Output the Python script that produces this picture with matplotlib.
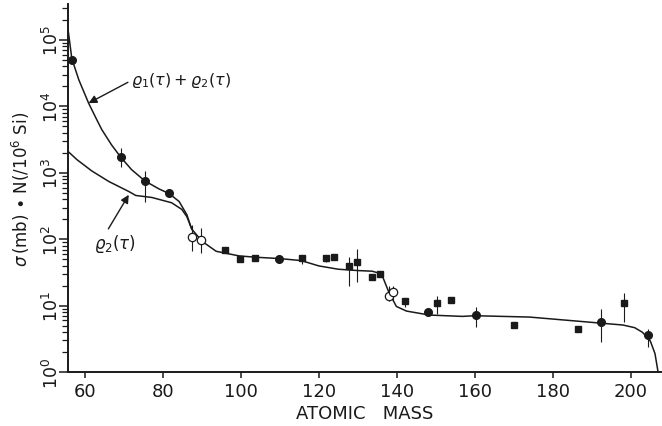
import numpy as np
import matplotlib
matplotlib.use("Agg")
import matplotlib.pyplot as plt
from matplotlib.ticker import LogLocator, NullFormatter, FixedLocator

# Curve: rho_1(tau) + rho_2(tau) (upper branch, merges with rho_2 near A ~ 87)
upper_mass = [55.6, 56.7, 58.5, 61.0, 63.1, 64.4, 66.9, 69.2, 72.0, 75.4, 79.0, 81.6,
              84.2, 86.2, 87.2, 87.5]
upper_val = [10**5.22, 10**4.72, 10**4.40, 10**4.05, 10**3.80, 10**3.65, 10**3.42,
             10**3.24, 10**3.05, 10**2.88, 10**2.76, 10**2.69, 10**2.57, 10**2.37,
             10**2.19, 10**2.15]

# Curve: rho_2(tau)
rho2_mass = [55.6, 58.0, 61.8, 66.2, 71.3, 73.1, 77.2, 82.3, 84.9, 86.2, 87.5, 90.1,
             93.7, 99.6, 104.0, 110.0, 115.5, 120.0, 125.0, 130.0, 133.7, 135.5, 136.5,
             138.0, 139.9, 142.5, 148.4, 156.8, 160.0, 174.0, 186.0, 198.0, 201.0,
             203.0, 205.0, 206.2, 207.0]
rho2_val = [10**3.33, 10**3.20, 10**3.03, 10**2.87, 10**2.72, 10**2.66, 10**2.63,
            10**2.55, 10**2.45, 10**2.34, 10**2.15, 10**1.97, 10**1.82, 10**1.75,
            10**1.73, 10**1.71, 10**1.68, 10**1.6, 10**1.55, 10**1.53, 10**1.52,
            10**1.49, 10**1.42, 10**1.2, 10**0.99, 10**0.92, 10**0.86, 10**0.84,
            10**0.85, 10**0.83, 10**0.77, 10**0.71, 10**0.67, 10**0.6, 10**0.47,
            10**0.28, 10**0.0]

# Measured abundances, filled circles
circ_mass = [56.7, 69.2, 75.4, 81.6, 109.8, 148.1, 160.2, 192.3, 204.4]
circ_val = [50000, 1740, 760, 490, 50, 8.0, 7.2, 5.6, 3.6]
circ_lo = [50000, 1230, 370, 490, 50, 8.0, 4.8, 2.8, 2.4]
circ_hi = [50000, 2400, 1050, 490, 50, 8.0, 9.5, 8.9, 4.5]

# Measured abundances, filled squares
sq_mass = [96.0, 99.8, 103.7, 115.7, 121.8, 123.8, 127.8, 129.9, 133.7, 135.8, 142.0,
           150.2, 154.0, 170.0, 186.4, 198.2]
sq_val = [70, 50, 52, 52, 53, 55, 40, 46, 27, 30, 11.7, 10.9, 12, 5.1, 4.4, 11]
sq_lo = [70, 50, 52, 42, 45, 55, 20, 23, 27, 30, 9.5, 7.4, 12, 5.1, 4.4, 5.6]
sq_hi = [70, 50, 52, 59, 53, 55, 55, 71, 27, 30, 11.7, 13.8, 12, 5.1, 4.4, 15.8]

# Open circles
open_mass = [87.5, 89.8, 138.0, 139.0]
open_val = [110, 96, 14, 16]
open_lo = [66, 62, 11.7, 12]
open_hi = [166, 150, 19.5, 20]

x_ticks = [60, 80, 100, 120, 140, 160, 180, 200]
y_ticks = [1e0, 1e1, 1e2, 1e3, 1e4, 1e5]
y_tick_labels = [r"$10^{0}$", r"$10^{1}$", r"$10^{2}$", r"$10^{3}$", r"$10^{4}$", r"$10^{5}$"]

ink = "#1a1a1a"
plt.rcParams["font.family"] = "DejaVu Sans"
plt.rcParams["mathtext.fontset"] = "dejavusans"

fig = plt.figure(figsize=(6.62, 4.27), dpi=100)
ax = fig.add_axes([0.102, 0.126, 0.898, 0.862])

ax.plot(upper_mass, upper_val, color=ink, lw=1.1)
ax.plot(rho2_mass, rho2_val, color=ink, lw=1.1)


def errbars(xs, ys, lo, hi, **kw):
    ys = np.asarray(ys, float)
    yerr = np.vstack([ys - np.asarray(lo, float), np.asarray(hi, float) - ys])
    ax.errorbar(xs, ys, yerr=yerr, ecolor=ink, elinewidth=0.8, capsize=0,
                linestyle="none", **kw)


errbars(circ_mass, circ_val, circ_lo, circ_hi, marker="o", ms=5.5,
        mfc=ink, mec=ink)
errbars(sq_mass, sq_val, sq_lo, sq_hi, marker="s", ms=5,
        mfc=ink, mec=ink)
errbars(open_mass, open_val, open_lo, open_hi, marker="o", ms=6,
        mfc="white", mec=ink, mew=0.9)

ax.set_yscale("log")
ax.set_xlim(55.6, 208)
ax.set_ylim(1.0, 10**5.54)

ax.xaxis.set_major_locator(FixedLocator(x_ticks))
ax.set_xticklabels([str(v) for v in x_ticks], fontsize=13, color=ink)
ax.set_yticks(y_ticks)
ax.set_yticklabels(y_tick_labels, fontsize=12.5, rotation=90, va="center", color=ink)
ax.yaxis.set_minor_locator(LogLocator(base=10, subs=np.arange(2, 10), numticks=20))
ax.yaxis.set_minor_formatter(NullFormatter())

ax.tick_params(axis="y", which="major", direction="out", length=6.5, width=1.1, color=ink, pad=-2.5)
ax.tick_params(axis="y", which="minor", direction="out", length=4.5, width=0.9, color=ink)
ax.tick_params(axis="x", which="major", direction="out", length=4, width=1.1, color=ink, pad=3)

for side in ("top", "right"):
    ax.spines[side].set_visible(False)
for side in ("left", "bottom"):
    ax.spines[side].set_linewidth(1.4)
    ax.spines[side].set_color(ink)

ax.set_xlabel("ATOMIC   MASS", fontsize=13, color=ink, labelpad=3)
ax.set_ylabel(r"$\sigma\,$(mb) $\bullet$ N(/10$^6$ Si)", fontsize=12, color=ink, labelpad=7)

ax.annotate(r"$\varrho_1(\tau)+\varrho_2(\tau)$", xy=(61.0, 10**4.05), xytext=(71.8, 10**4.4),
            fontsize=11.5, color=ink, va="center", ha="left",
            arrowprops=dict(arrowstyle="-|>", color=ink, lw=1.0, mutation_scale=12,
                            shrinkA=0, shrinkB=0, relpos=(0.0, 0.45)))
ax.annotate(r"$\varrho_2(\tau)$", xy=(71.3, 10**2.67), xytext=(67.8, 10**1.95),
            fontsize=12, color=ink, va="center", ha="center",
            arrowprops=dict(arrowstyle="-|>", color=ink, lw=1.0, mutation_scale=12,
                            shrinkA=0, shrinkB=0, relpos=(0.3, 1.0)))

fig.savefig("out.png", dpi=100)
